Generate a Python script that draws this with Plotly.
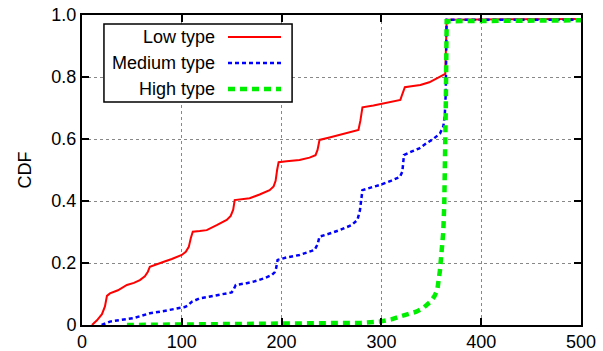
import plotly.graph_objects as go

# Low type (red)
low_x = [10, 15, 20, 23, 25, 28, 36, 45, 52, 58, 63, 66, 68, 75, 82, 90, 100, 104, 107, 109, 111, 118, 125, 135, 145, 149, 151.5, 153,
         160, 168, 178, 188, 192, 194, 195.5, 197, 205, 218, 228, 234, 236, 238, 248, 258, 268, 277, 279, 281,
         292, 302, 312, 319, 321, 323.5, 330, 339, 348, 355, 361, 364, 365.4, 400, 450, 500]
low_y = [0.0, 0.015, 0.035, 0.06, 0.094, 0.102, 0.112, 0.129, 0.136, 0.145, 0.157, 0.172, 0.188, 0.195, 0.204, 0.213, 0.226, 0.236, 0.252, 0.28, 0.301, 0.303, 0.306, 0.322, 0.339, 0.352, 0.372, 0.403,
         0.406, 0.409, 0.421, 0.435, 0.447, 0.465, 0.5, 0.525, 0.528, 0.532, 0.54, 0.548, 0.565, 0.597, 0.605, 0.613, 0.62, 0.629, 0.66, 0.702,
         0.708, 0.715, 0.72, 0.726, 0.745, 0.767, 0.77, 0.774, 0.783, 0.794, 0.803, 0.81, 0.985, 0.985, 0.986, 0.987]

# Medium type (blue)
med_x = [19.7, 28, 40, 51, 60, 68, 80, 98, 103, 106, 110, 118, 135, 150, 152, 154, 165, 172, 182, 190, 193, 194.5, 196, 205, 218,
         233, 236, 238, 248, 258, 270, 276, 278.5, 281, 290, 299, 310, 318.6, 321, 322.6, 330, 338, 345, 352, 358.7, 362, 363.5, 364.5, 365.3, 400, 450, 500]
med_y = [0.0, 0.011, 0.017, 0.022, 0.03, 0.038, 0.044, 0.054, 0.058, 0.063, 0.075, 0.086, 0.096, 0.105, 0.115, 0.129, 0.135, 0.14, 0.15, 0.161, 0.17, 0.183, 0.21, 0.218, 0.226,
         0.242, 0.26, 0.285, 0.295, 0.306, 0.322, 0.339, 0.37, 0.435, 0.444, 0.452, 0.466, 0.478, 0.495, 0.548, 0.559, 0.57, 0.586, 0.6, 0.618, 0.64, 0.675, 0.75, 0.985, 0.985, 0.985, 0.985]

# High type (green)
high_x = [45, 100, 150, 200, 250, 280, 298, 310, 318, 327, 335, 342, 349, 353, 356, 358.7, 360.5, 362, 363, 363.8, 364.5, 365.4, 400, 450, 500]
high_y = [0.0, 0.001, 0.002, 0.003, 0.005, 0.007, 0.011, 0.018, 0.027, 0.035, 0.043, 0.055, 0.075, 0.092, 0.113, 0.177, 0.231, 0.3, 0.39, 0.5, 0.7, 0.98, 0.98, 0.982, 0.983]

x_ticks = [0, 100, 200, 300, 400, 500]
y_ticks = [0, 0.2, 0.4, 0.6, 0.8, 1.0]
y_tick_labels = ["0", "0.2", "0.4", "0.6", "0.8", "1.0"]

series = [
    ("Low type", low_x, low_y, "#ff0000", 2, "solid"),
    ("Medium type", med_x, med_y, "#0000ff", 2.5, "4px,3px"),
    ("High type", high_x, high_y, "#00ee00", 4.5, "7px,5px"),
]

FONT = "Liberation Sans, Arial, Helvetica, sans-serif"
FS = 18

fig = go.Figure()
for name, xs, ys, col, w, dash in series:
    fig.add_trace(go.Scatter(x=xs, y=ys, mode="lines", name=name,
                             line=dict(color=col, width=w, dash=dash), showlegend=False))

axis_common = dict(showline=True, linecolor="black", linewidth=2, mirror="ticks",
                   ticks="inside", ticklen=7, tickwidth=1.5, tickcolor="black",
                   showgrid=True, gridcolor="#888888", gridwidth=1, griddash="dot",
                   zeroline=False, automargin=False, ticklabeloverflow="allow",
                   tickfont=dict(family=FONT, size=FS, color="black"))

fig.update_xaxes(range=[0, 500], tickvals=x_ticks, ticklabelstandoff=-1, **axis_common)
fig.update_yaxes(range=[0, 1.0], tickvals=y_ticks, ticktext=y_tick_labels,
                 title=dict(text="CDF", font=dict(family=FONT, size=FS, color="black"), standoff=15),
                 **axis_common)

# Legend (gnuplot style: text right-aligned, sample to the right)
lx0, lx1, ly0, ly1 = 0.044, 0.421, 0.719, 0.971
fig.add_shape(type="rect", xref="paper", yref="paper", x0=lx0, x1=lx1, y0=ly0, y1=ly1,
              line=dict(color="black", width=1.5), fillcolor="white", layer="above")
row_y = [0.929, 0.845, 0.761]
for (name, xs, ys, col, w, dash), ry in zip(series, row_y):
    fig.add_annotation(xref="paper", yref="paper", x=0.2705, y=ry, text=name, showarrow=False,
                       xanchor="right", yanchor="middle",
                       font=dict(family=FONT, size=FS, color="black"))
    fig.add_shape(type="line", xref="paper", yref="paper", x0=0.2926, x1=0.3988, y0=ry, y1=ry,
                  line=dict(color=col, width=w, dash=dash), layer="above")

fig.update_layout(width=603, height=351, margin=dict(l=82, r=22, t=15, b=26, autoexpand=False),
                  plot_bgcolor="white", paper_bgcolor="white",
                  font=dict(family=FONT, size=FS, color="black"))

# remove the default 8px page margin so the figure fills the window exactly
fig.write_html("out.html", config={"displayModeBar": False},
               post_script="document.body.style.margin='0';")
